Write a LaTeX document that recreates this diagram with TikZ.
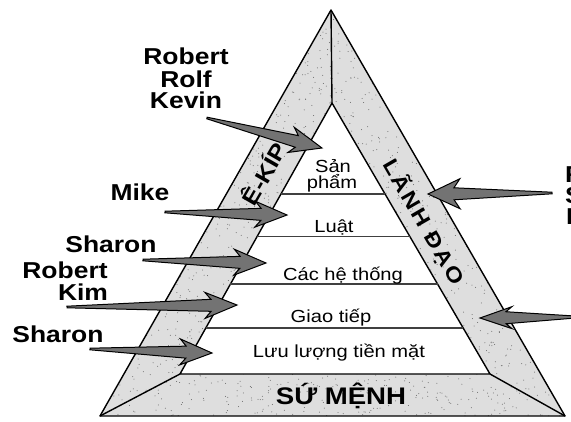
\documentclass[tikz,border=0pt]{standalone}
\usepackage{graphicx}
\usepackage{fontspec}
\setmainfont{Liberation Sans}
\newfontfamily\bandfont[LetterSpace=10]{Liberation Sans}
\usetikzlibrary{calc}
\newcommand{\sx}[1]{\scalebox{1.15}[1]{#1}}
\newcommand{\fatarrow}[3][13]{%
  \path let \p1=($(#3)-(#2)$) in \pgfextra{%
    \pgfmathsetmacro\arangtmp{atan2(\y1,\x1)}\xdef\arang{\arangtmp}%
    \pgfmathsetmacro\arlentmp{veclen(\x1,\y1)}\xdef\arlen{\arlentmp}};
  \begin{scope}[shift={(#2)}, rotate=\arang, x=1pt, y=1pt]
    \filldraw[arrowfill] (0,0.8) -- ({\arlen-26},6) -- ({\arlen-32},#1)
      -- (\arlen,0) -- ({\arlen-32},-#1) -- ({\arlen-26},-6) -- (0,-0.8) -- cycle;
  \end{scope}}
\begin{document}
\begin{tikzpicture}[x=1pt,y=-1pt,
  pyredge/.style={line width=1.4pt, line join=round},
  layerline/.style={draw=black!75, line width=1.2pt},
  arrowfill/.style={fill=black!55, draw=black, line width=1pt, line join=miter},
  whotxt/.style={font=\fontsize{23}{23}\selectfont\bfseries, inner sep=0pt, anchor=base},
  layertxt/.style={font=\fontsize{17.5}{17.5}\selectfont, inner sep=0pt, anchor=base},
  bandtxt/.style={font=\fontsize{22}{22}\selectfont\bfseries, inner sep=0pt}]
\useasboundingbox (0,0) rectangle (571,421);
\clip (0,0) rectangle (571,421);
% pyramid corners
\coordinate (OA) at (331,10);
\coordinate (OL) at (100,416);
\coordinate (OR) at (565,416);
\coordinate (IA) at (332,103);
\coordinate (IL) at (180,374);
\coordinate (IR) at (490,374);
% stippled bands
\fill[black!13] (OA) -- (OR) -- (OL) -- cycle;
\begin{scope}
  \clip (OA) -- (OR) -- (OL) -- cycle;
  \pgfmathsetseed{7}
  \foreach \i in {1,...,2600} {\fill[black!60] ({100+465*rnd},{10+406*rnd}) circle (0.5);}
\end{scope}
\fill[white] (IA) -- (IR) -- (IL) -- cycle;
\draw[pyredge] (OA) -- (OR) -- (OL) -- cycle;
\draw[pyredge] (IA) -- (IR) -- (IL) -- cycle;
\draw[pyredge] (OA) -- (IA);
\draw[pyredge] (OL) -- (IL);
\draw[pyredge] (OR) -- (IR);
% layer lines
\foreach \t/\nm in {0.336/l1, 0.494/l2, 0.668/l3, 0.830/l4} {
  \coordinate (\nm a) at ($(IA)!\t!(IL)$);
  \coordinate (\nm b) at ($(IA)!\t!(IR)$);
  \draw[layerline] (\nm a) -- (\nm b);
}
% layer texts
\node[layertxt] (san) at (333,172) {\sx{Sản}};
\node[layertxt] (pham) at (332,188) {\sx{phẩm}};
\node[layertxt] (luat) at (334,232) {\sx{Luật}};
\node[layertxt] (hethong) at (343,280) {\sx{Các hệ thống}};
\node[layertxt] (giaotiep) at (331,322) {\sx{Giao tiếp}};
\node[layertxt] (luuluong) at (339,357) {\sx{Lưu lượng tiền mặt}};
\node[font=\fontsize{24}{24}\selectfont\bfseries, inner sep=0pt, anchor=base] (sumenh) at (341,404) {\sx{SỨ MỆNH}};
% band texts
\node[bandtxt, rotate=60] (ekip) at (263,173) {\sx{Ê-KÍP}};
\node[bandtxt, rotate=-60, font=\fontsize{21}{21}\selectfont\bfseries\bandfont] (lanhdao) at (424,222) {\sx{LÃNH ĐẠO}};
% names
\node[whotxt] (robert1) at (186,64) {\sx{Robert}};
\node[whotxt] (rolf) at (186,87) {\sx{Rolf}};
\node[whotxt] (kevin) at (186,108) {\sx{Kevin}};
\node[whotxt] (mike) at (140,200) {\sx{Mike}};
\node[whotxt] (sharon1) at (111,252) {\sx{Sharon}};
\node[whotxt] (robert2) at (65,278) {\sx{Robert}};
\node[whotxt] (kim) at (83,300) {\sx{Kim}};
\node[whotxt] (sharon2) at (58,342) {\sx{Sharon}};
\node[whotxt, anchor=base west] (rr) at (565,182) {\sx{R}};
\node[whotxt, anchor=base west] (rs) at (565,203) {\sx{S}};
\node[whotxt, anchor=base west] (rk) at (566,224) {\sx{K}};
% arrows
\coordinate (a1s) at (207,118); \coordinate (a1t) at (322,148);
\coordinate (a2s) at (165,212); \coordinate (a2t) at (287,215);
\coordinate (a3s) at (143,260); \coordinate (a3t) at (266,263);
\coordinate (a4s) at (67,307);  \coordinate (a4t) at (237,305);
\coordinate (a5s) at (90,349);  \coordinate (a5t) at (212,353);
\coordinate (a6s) at (552,193); \coordinate (a6t) at (428,194);
\coordinate (a7s) at (578,317); \coordinate (a7t) at (480,318);
\fatarrow{a1s}{a1t}
\fatarrow{a2s}{a2t}
\fatarrow{a3s}{a3t}
\fatarrow{a4s}{a4t}
\fatarrow{a5s}{a5t}
\fatarrow[15]{a6s}{a6t}
\fatarrow[11]{a7s}{a7t}
\end{tikzpicture}
\end{document}
